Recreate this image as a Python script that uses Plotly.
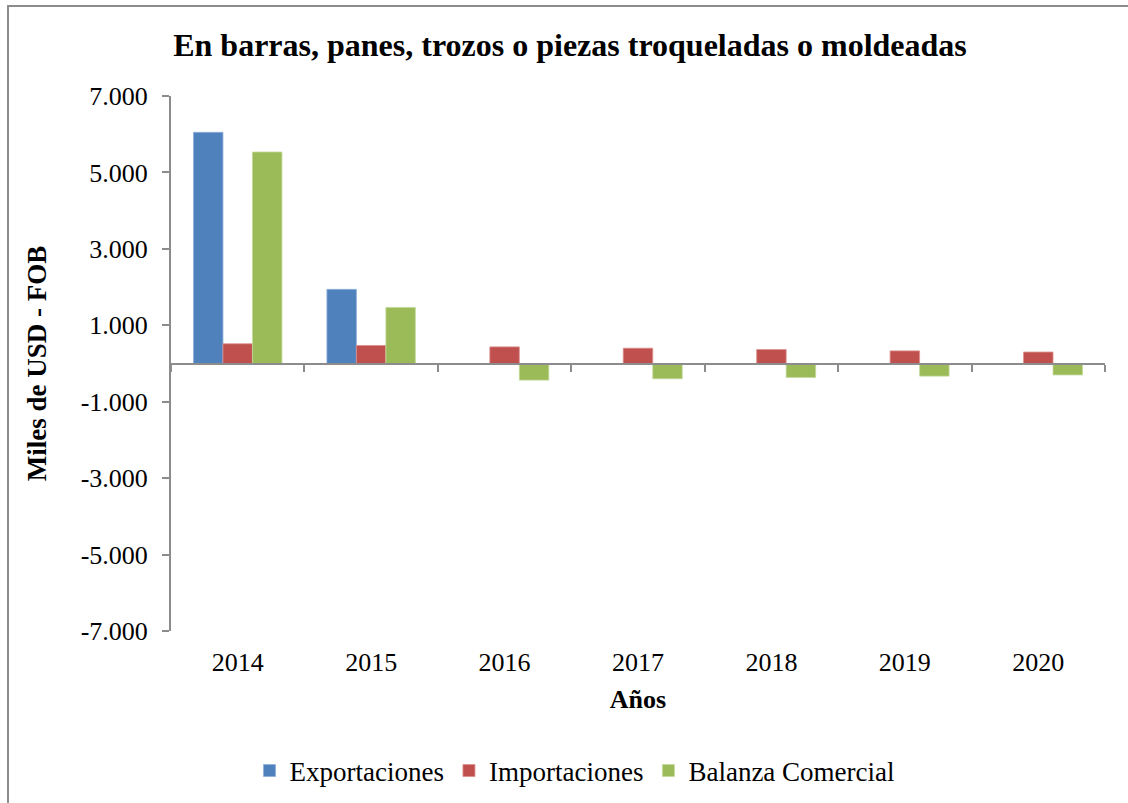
import plotly.graph_objects as go

years = ["2014", "2015", "2016", "2017", "2018", "2019", "2020"]
exportaciones = [6050, 1940, 0, 0, 0, 0, 0]
importaciones = [516, 472, 435, 400, 365, 330, 300]
balanza = [5534, 1468, -435, -400, -365, -330, -300]
y_tickvals = [-7000, -5000, -3000, -1000, 1000, 3000, 5000, 7000]
y_ticktext = ["-7.000", "-5.000", "-3.000", "-1.000", "1.000", "3.000", "5.000", "7.000"]

FONT = "Liberation Serif"
W, H = 1128, 803
L, R, T, B = 171, 23, 96, 172

fig = go.Figure()
fig.add_trace(go.Bar(name="Exportaciones", x=years, y=exportaciones,
                     marker=dict(color="#4F81BD", line=dict(color="#8FB0DA", width=0.8))))
fig.add_trace(go.Bar(name="Importaciones", x=years, y=importaciones,
                     marker=dict(color="#C0504D", line=dict(color="#DA8F8D", width=0.8))))
fig.add_trace(go.Bar(name="Balanza Comercial", x=years, y=balanza,
                     marker=dict(color="#9BBB59", line=dict(color="#C4D99A", width=0.8))))
# invisible helper trace for the label axis at the bottom
fig.add_trace(go.Scatter(x=years, y=[0] * len(years), xaxis="x2", mode="markers",
                         marker=dict(opacity=0), showlegend=False, hoverinfo="skip"))

pw = W - L - R
ph = H - T - B
fig.update_layout(
    width=W, height=H,
    margin=dict(l=L, r=R, t=T, b=B, autoexpand=False),
    paper_bgcolor="white", plot_bgcolor="white",
    font=dict(family=FONT, size=26, color="black"),
    title=dict(text="<b>En barras, panes, trozos o piezas troqueladas o moldeadas</b>",
               x=(570 - L) / pw, xanchor="center", xref="paper", y=1 - 45 / H, yanchor="middle",
               font=dict(family=FONT, size=32, color="black")),
    barmode="group", bargap=0.337, bargroupgap=0,
    showlegend=True,
    legend=dict(orientation="h", x=(575 - L) / pw, xanchor="center",
                y=(H - B - 771) / ph, yanchor="middle",
                font=dict(family=FONT, size=27), itemwidth=30, traceorder="normal"),
    xaxis=dict(type="category", categoryorder="array", categoryarray=years,
               range=[-0.5, 6.5], anchor="free", position=0.5,
               showline=True, linecolor="#8C8C8C", linewidth=2,
               ticks="outside", tickson="boundaries", ticklen=7, tickcolor="#8C8C8C", tickwidth=2,
               showticklabels=False, showgrid=False, zeroline=False),
    xaxis2=dict(type="category", categoryorder="array", categoryarray=years,
                range=[-0.5, 6.5], overlaying="x", anchor="y", side="bottom",
                showline=False, ticks="", showticklabels=True, ticklabelstandoff=13,
                tickfont=dict(family=FONT, size=26), showgrid=False, zeroline=False,
                title=dict(text="<b>Años</b>", font=dict(family=FONT, size=26), standoff=13)),
    yaxis=dict(range=[-7000, 7000], tickvals=y_tickvals, ticktext=y_ticktext,
               showline=True, linecolor="#8C8C8C", linewidth=2,
               ticks="outside", ticklen=7, tickcolor="#8C8C8C", tickwidth=2,
               ticklabelstandoff=9,
               tickfont=dict(family=FONT, size=26), showgrid=False, zeroline=False,
               title=dict(text="<b>Miles de USD - FOB</b>", font=dict(family=FONT, size=27),
                          standoff=26)),
)

# outer chart border (partially outside the page, as in the reference)
fig.add_shape(type="rect", xref="paper", yref="paper", layer="below",
              x0=(8 - L) / pw, x1=(W + 5 - L) / pw,
              y0=(H - B - (H + 5)) / ph, y1=(H - B - 6) / ph,
              line=dict(color="#8C8C8C", width=2), fillcolor="rgba(0,0,0,0)")

fig.write_html("out.html", config={"displayModeBar": False},
               post_script="document.body.style.margin='0';")
